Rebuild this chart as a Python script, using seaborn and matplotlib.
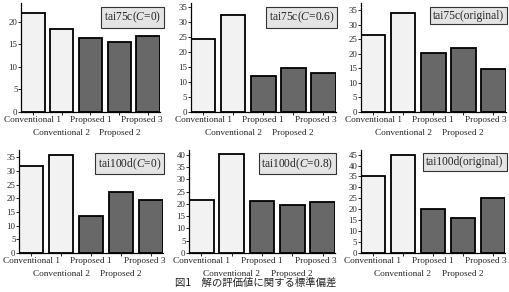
import numpy as np
import matplotlib
matplotlib.use('Agg')
import matplotlib.pyplot as plt
import seaborn as sns

# 数据
methods = ['Conventional 1', 'Conventional 2', 'Proposed 1', 'Proposed 2', 'Proposed 3']
bar_colors = ['#f2f2f2', '#f2f2f2', '#686868', '#686868', '#686868']

titles = [r'tai75c($\mathit{C}$=0)', r'tai75c($\mathit{C}$=0.6)', 'tai75c(original)',
          r'tai100d($\mathit{C}$=0)', r'tai100d($\mathit{C}$=0.8)', 'tai100d(original)']

tai75c_c0 = [22.0, 18.5, 16.4, 15.6, 16.9]
tai75c_c06 = [24.1, 32.3, 12.1, 14.7, 13.1]
tai75c_orig = [26.5, 33.9, 20.2, 21.9, 14.9]
tai100d_c0 = [31.6, 35.9, 13.6, 22.1, 19.5]
tai100d_c08 = [21.4, 40.2, 21.1, 19.4, 20.7]
tai100d_orig = [35.4, 45.0, 20.3, 16.0, 25.3]
series = [tai75c_c0, tai75c_c06, tai75c_orig, tai100d_c0, tai100d_c08, tai100d_orig]

y_tops = [24.2, 36.2, 37.5, 37.6, 41.9, 47.1]

caption = '図1　解の評価値に関する標準偏差'

sns.set_style('ticks')
plt.rcParams['font.family'] = ['Liberation Serif', 'DejaVu Serif']
plt.rcParams['mathtext.fontset'] = 'custom'
plt.rcParams['mathtext.rm'] = 'Liberation Serif'
plt.rcParams['mathtext.it'] = 'Liberation Serif:italic'

W, H = 510, 292
fig = plt.figure(figsize=(W / 100, H / 100), dpi=100)

# 各子图位置 (像素: 左, 底部x轴y, 宽, 高)
boxes = [(21, 112, 139, 109), (190.7, 112, 145, 109), (360.7, 112, 145, 109),
         (19, 253, 144, 103), (189, 253, 146, 103), (360.7, 253, 144.5, 103)]
fs = 6.7

for i, (vals, title) in enumerate(zip(series, titles)):
    l, b, w, h = boxes[i]
    ax = fig.add_axes([l / W, 1 - b / H, w / W, h / H])
    sns.barplot(x=methods, y=vals, hue=methods, palette=bar_colors, edgecolor='black',
                linewidth=1.3, width=0.82, legend=False, ax=ax)
    ax.set_xlim(-0.41, 4.41)
    ax.set_ylim(0, y_tops[i])
    ax.set_yticks(np.arange(0, y_tops[i], 5))
    # 标签交错两行: 偶数位置用主刻度, 奇数位置用次刻度
    ax.set_xticks([0, 2, 4], [methods[0], methods[2], ''])
    ax.set_xticks([1, 3], [methods[1], methods[3]], minor=True)
    ax.tick_params(axis='x', which='major', labelsize=fs, length=2, width=0.7, pad=1)
    ax.tick_params(axis='x', which='minor', labelsize=fs, length=2, width=0.7, pad=10)
    ax.tick_params(axis='y', labelsize=6.3, length=2, width=0.7, pad=0.5)
    # 最后一个标签靠右对齐, 避免超出画面
    ax.annotate(methods[4], xy=(4.41, 0), xycoords=('data', 'axes fraction'),
                xytext=(2 if i % 3 == 0 else 1, -3), textcoords='offset points',
                ha='right', va='top', fontsize=fs)
    ax.set_xlabel('')
    ax.set_ylabel('')
    sns.despine(ax=ax)
    for s in ['left', 'bottom']:
        ax.spines[s].set_linewidth(0.9)
        ax.spines[s].set_color('black')
    ax.text(1.01 if i == 0 else 0.99, 0.94, title, transform=ax.transAxes, ha='right', va='top',
            fontsize=8.3, bbox=dict(boxstyle='square,pad=0.25', fc='#e4e4e4', ec='#333333', lw=0.8))

fig.text(256 / W, 1 - 283 / H, caption, ha='center', va='center', fontsize=7.5,
         family=['Noto Sans CJK JP', 'DejaVu Sans'])

fig.savefig('out.png', dpi=100)
plt.close()
